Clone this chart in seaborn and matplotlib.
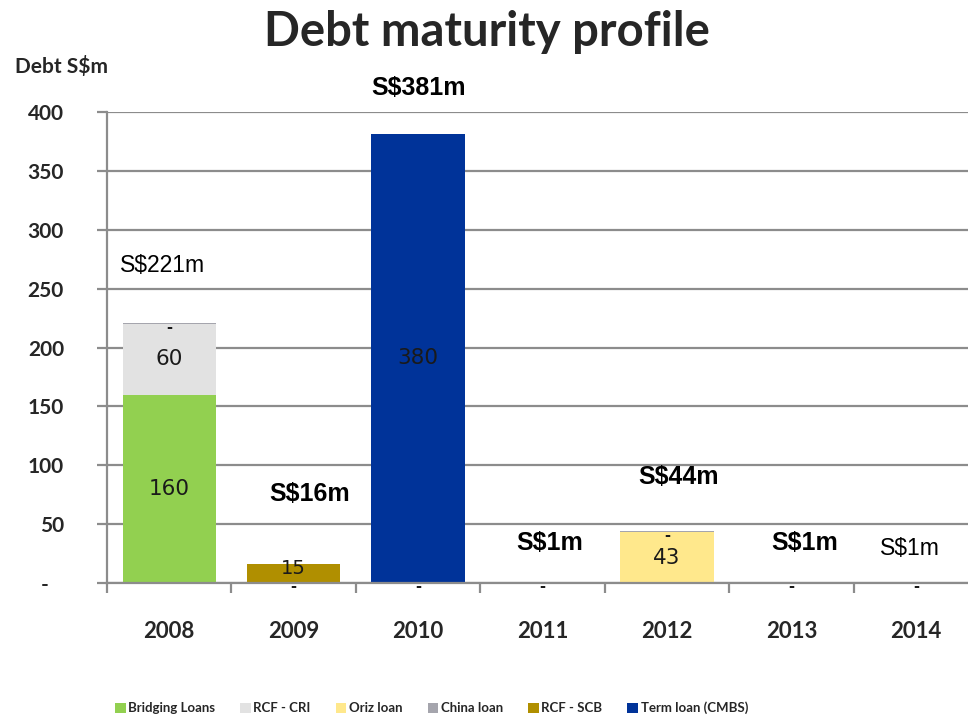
import matplotlib
matplotlib.use("Agg")
import matplotlib.pyplot as plt
from matplotlib.patches import Patch
from matplotlib.ticker import FixedLocator, FuncFormatter
import seaborn as sns
import numpy as np

# Debt maturing each year, S$ million, by facility
years = ["2008", "2009", "2010", "2011", "2012", "2013", "2014"]
series_names = ["Bridging Loans", "RCF - CRI", "Oriz loan", "China loan",
                "RCF - SCB", "Term loan (CMBS)"]
bridging_loans = [160, 0, 0, 0, 0, 0, 0]
rcf_cri = [60, 0, 0, 0, 0, 0, 0]
oriz_loan = [0, 0, 0, 0, 43, 0, 0]
china_loan = [1, 1, 1, 1, 1, 1, 1]
rcf_scb = [0, 15, 0, 0, 0, 0, 0]
term_loan = [0, 0, 380, 0, 0, 0, 0]
y_ticks = [0, 50, 100, 150, 200, 250, 300, 350, 400]

series_values = [bridging_loans, rcf_cri, oriz_loan, china_loan, rcf_scb, term_loan]
series_colors = ["#92D050", "#E2E2E2", "#FFE88C", "#A5A5AD", "#B08F00", "#003399"]

sns.set_theme(style="white")
plt.rcParams["font.family"] = ["Lato", "DejaVu Sans"]

fig = plt.figure(figsize=(9.68, 7.18), dpi=100)
ax = fig.add_axes([107 / 968, 135 / 718, 871 / 968, 471 / 718])

grid_grey = "#8C8C8C"
bottom = np.zeros(len(years))
for name, vals, col in zip(series_names, series_values, series_colors):
    sns.barplot(x=years, y=vals, bottom=bottom, color=col, saturation=1,
                width=0.75, order=years, ax=ax, edgecolor="none", linewidth=0)
    for i, v in enumerate(vals):
        if v <= 0:
            continue
        if v >= 20:
            ax.text(i, bottom[i] + v / 2, f"{v}", ha="center", va="center",
                    fontsize=15.5, color="#1A1A1A", family="DejaVu Sans")
        elif v >= 5:
            # short segment: label sits a touch higher so it clears the base dash
            ax.annotate(f"{v}", (i, bottom[i] + v / 2), xytext=(0, 3),
                        textcoords="offset points", ha="center", va="center",
                        fontsize=14, color="#1A1A1A", family="DejaVu Sans")
        else:
            # tiny segments get a dash, set just below the segment
            ax.annotate("-", (i, bottom[i] + v / 2), xytext=(0, -3),
                        textcoords="offset points", ha="center", va="center",
                        fontsize=10.5, fontweight="bold", color="#1A1A1A",
                        family="DejaVu Sans", annotation_clip=False)
    bottom = bottom + np.array(vals)

totals = bottom
# Year totals written above / beside each column
total_xoff = [-0.05, 0.13, 0.0, 0.06, 0.09, 0.11, -0.05]
total_y = [270, 76, 420, 34, 90, 34, 29]
for i, t in enumerate(totals):
    plain = i in (0, 6)
    ax.text(i + total_xoff[i], total_y[i], f"S${int(round(t))}m",
            ha="center", va="center", family="Liberation Sans",
            fontsize=16.5 if plain else 18,
            fontweight="normal" if plain else "bold",
            color="black", clip_on=False)

ax.set_xlim(-0.5, 6.5)
ax.set_ylim(0, 400)
ax.yaxis.set_major_locator(FixedLocator(y_ticks))
ax.yaxis.set_major_formatter(FuncFormatter(lambda v, p: "-   " if v == 0 else f"{int(v)}"))
ax.grid(axis="y", color=grid_grey, linewidth=1.6)
ax.grid(axis="x", visible=False)
ax.set_axisbelow(True)

for side in ("top", "right"):
    ax.spines[side].set_visible(False)
for side in ("left", "bottom"):
    ax.spines[side].set_color(grid_grey)
    ax.spines[side].set_linewidth(1.6)

ax.xaxis.set_minor_locator(FixedLocator(np.arange(-0.5, 7, 1.0)))
ax.tick_params(axis="x", which="major", length=0, pad=27, labelsize=16)
ax.tick_params(axis="x", which="minor", length=7, width=1.6, color=grid_grey,
               direction="out", bottom=True)
ax.tick_params(axis="y", which="major", length=7, width=1.6, color=grid_grey,
               direction="out", left=True, pad=24, labelsize=15)
for lab in ax.get_xticklabels() + ax.get_yticklabels():
    lab.set_fontweight("bold")
ax.set_xlabel("")
ax.set_ylabel("")

fig.text(487 / 968, 1 - 32 / 718, "Debt maturity profile", ha="center", va="center",
         fontsize=34, fontweight="bold")
fig.text(15 / 968, 1 - 67 / 718, "Debt S$m", ha="left", va="center",
         fontsize=15, fontweight="bold")

handles = [Patch(facecolor=c, edgecolor="none") for c in series_colors]
fig.legend(handles, series_names, loc="center left",
           bbox_to_anchor=(115 / 968, 1 - 708 / 718), ncol=6, frameon=False,
           prop={"size": 9.5, "weight": "bold"}, handlelength=0.8, handleheight=0.8,
           handletextpad=0.2, columnspacing=1.9, borderaxespad=0, borderpad=0)

fig.savefig("out.png", dpi=100)
